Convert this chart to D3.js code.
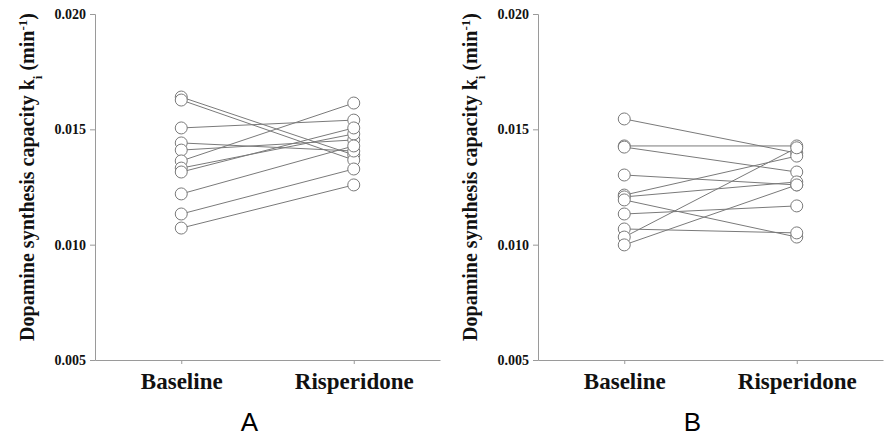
<!DOCTYPE html>
<html lang="en">
<head>
<meta charset="UTF-8">
<title>Dopamine synthesis capacity</title>
<style>
  body { margin: 0; background: #fff; }
  svg { display: block; }
</style>
</head>
<body>
<div id="chart"></div>
<script src="https://d3js.org/d3.v7.min.js"></script>
<script>
// conditions on the x axis
const conditions = ["Baseline", "Risperidone"];
const yTicks = [0.005, 0.010, 0.015, 0.020];

// panel A: one pair per subject (baseline, risperidone)
const baselineA    = [0.01640, 0.01627, 0.01506, 0.01441, 0.01410, 0.01363, 0.01332, 0.01315, 0.01220, 0.01133, 0.01072];
const risperidoneA = [0.01389, 0.01367, 0.01540, 0.01406, 0.01454, 0.01614, 0.01480, 0.01506, 0.01428, 0.01328, 0.01259];

// panel B
const baselineB    = [0.01545, 0.01428, 0.01423, 0.01302, 0.01215, 0.01207, 0.01194, 0.01133, 0.01068, 0.01033, 0.00999];
const risperidoneB = [0.01397, 0.01428, 0.01315, 0.01259, 0.01384, 0.01272, 0.01033, 0.01168, 0.01051, 0.01420, 0.01259];

const panels = [
  {label: "A", left: 95, base: baselineA, risp: risperidoneA},
  {label: "B", left: 538, base: baselineB, risp: risperidoneB}
];

const W = 890, H = 437;
const plotTop = 14, plotBottom = 360, plotW = 345;

const svg = d3.select("#chart").append("svg")
  .attr("width", W)
  .attr("height", H);

svg.append("rect").attr("width", W).attr("height", H).attr("fill", "#fff");

const y = d3.scaleLinear().domain([0.005, 0.020]).range([plotBottom, plotTop]);

panels.forEach(function(p) {
  const g = svg.append("g").attr("transform", "translate(" + p.left + ",0)");

  const x = d3.scalePoint().domain(conditions).range([0, plotW]).padding(0.5);

  // y axis
  const ya = g.append("g")
    .call(d3.axisLeft(y).tickValues(yTicks).tickFormat(d3.format(".3f")).tickSize(5).tickPadding(4));
  ya.selectAll("path, line").attr("stroke", "#9a9a9a");
  ya.selectAll("text")
    .attr("font-family", "Liberation Serif, Times New Roman, serif")
    .attr("font-weight", "bold")
    .attr("font-size", 14)
    .attr("fill", "#111");

  // x axis
  const xa = g.append("g")
    .attr("transform", "translate(0," + plotBottom + ")")
    .call(d3.axisBottom(x).tickSize(4).tickSizeOuter(0).tickPadding(9));
  xa.selectAll("path, line").attr("stroke", "#9a9a9a");
  xa.selectAll("text")
    .attr("font-family", "Liberation Serif, Times New Roman, serif")
    .attr("font-weight", "bold")
    .attr("font-size", 23)
    .attr("fill", "#111");

  // y axis title
  const t = g.append("text")
    .attr("transform", "translate(-61,177) rotate(-90)")
    .attr("text-anchor", "middle")
    .attr("font-family", "Liberation Serif, Times New Roman, serif")
    .attr("font-weight", "bold")
    .attr("font-size", 20)
    .attr("fill", "#111");
  t.append("tspan").text("Dopamine synthesis capacity k");
  t.append("tspan").attr("baseline-shift", "sub").attr("font-size", 13).text("i");
  t.append("tspan").text(" (min");
  t.append("tspan").attr("baseline-shift", "super").attr("font-size", 13).text("-1");
  t.append("tspan").text(")");

  // paired lines
  const pairs = p.base.map(function(b, i) { return [b, p.risp[i]]; });
  g.append("g").selectAll("line")
    .data(pairs)
    .enter()
    .append("line")
    .attr("x1", x(conditions[0]))
    .attr("x2", x(conditions[1]))
    .attr("y1", function(d) { return y(d[0]); })
    .attr("y2", function(d) { return y(d[1]); })
    .attr("stroke", "#7a7a7a")
    .attr("stroke-width", 1);

  // points
  const pts = [];
  p.base.forEach(function(v) { pts.push({c: conditions[0], v: v}); });
  p.risp.forEach(function(v) { pts.push({c: conditions[1], v: v}); });
  g.append("g").selectAll("circle")
    .data(pts)
    .enter()
    .append("circle")
    .attr("cx", function(d) { return x(d.c); })
    .attr("cy", function(d) { return y(d.v); })
    .attr("r", 6)
    .attr("fill", "#fff")
    .attr("stroke", "#7a7a7a")
    .attr("stroke-width", 1);

  // panel letter
  g.append("text")
    .attr("x", plotW / 2 - 18)
    .attr("y", 431)
    .attr("text-anchor", "middle")
    .attr("font-family", "Liberation Sans, Arial, sans-serif")
    .attr("font-size", 26)
    .attr("fill", "#000")
    .text(p.label);
});
</script>
</body>
</html>
